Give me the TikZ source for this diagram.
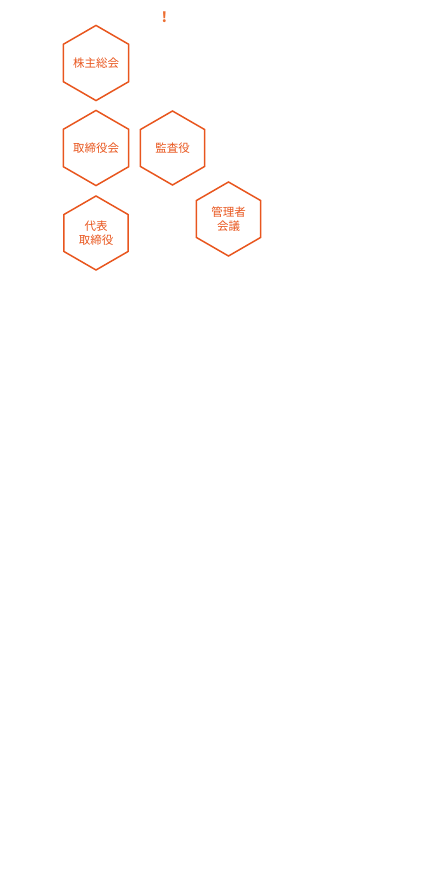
\documentclass[tikz,border=0pt]{standalone}
\usepackage{fontspec}
\setmainfont{Noto Sans CJK JP}
\usetikzlibrary{shapes.geometric}
\definecolor{hexorange}{RGB}{232,86,30}
\definecolor{markorange}{RGB}{236,110,50}
\tikzset{
  hexnode/.style={regular polygon, regular polygon sides=6, shape border rotate=30,
    minimum size=74pt, inner sep=0pt, outer sep=0pt, draw=hexorange, line width=1.5pt,
    text=hexorange, font=\fontsize{11.5pt}{14pt}\selectfont, align=center},
  marktext/.style={text=markorange, font=\fontsize{14pt}{14pt}\selectfont\bfseries, inner sep=0pt}
}
\begin{document}
\begin{tikzpicture}[x=1pt,y=1pt]
\useasboundingbox (0,0) rectangle (432,-890);
\node[marktext] (mark) at (164.5,-17.5) {!};
\node[hexnode] (soukai) at (96,-63) {株主総会};
\node[hexnode] (torishimari) at (96,-148) {取締役会};
\node[hexnode] (kansa) at (172.5,-148) {監査役};
\node[hexnode] (daihyo) at (96,-233) {代表\\取締役};
\node[hexnode] (kanri) at (228.5,-219) {管理者\\会議};
\end{tikzpicture}
\end{document}
